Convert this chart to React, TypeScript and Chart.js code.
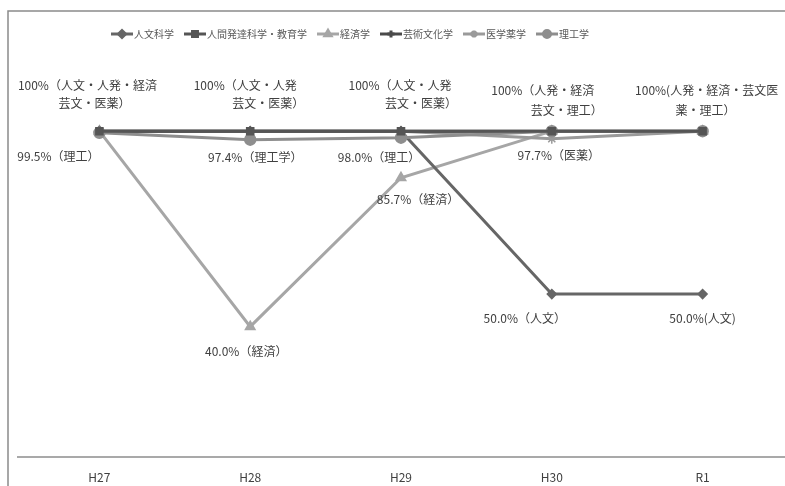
import React, { useEffect, useRef } from "react";
import { Chart, registerables } from "chart.js";
import { drawPoint } from "chart.js/helpers";

Chart.register(...registerables);

const categories = ["H27", "H28", "H29", "H30", "R1"];
const seriesNames = ["人文科学", "人間発達科学・教育学", "経済学", "芸術文化学", "医学薬学", "理工学"];
const jinbun = [100, 100, 100, 50, 50];
const ningen = [100, 100, 100, 100, 100];
const keizai = [100, 40, 85.7, 100, 100];
const geijutsu = [100, 100, 100, 100, 100];
const igaku = [100, 100, 100, 97.7, 100];
const riko = [99.5, 97.4, 98.0, 100, 100];

const colors = ["#666666", "#555555", "#a6a6a6", "#4a4a4a", "#9a9a9a", "#8e8e8e"];
const pointStyles = ["rectRot", "rect", "triangle", "cross", "star", "circle"];
const pointRadii = [4.5, 5, 5.5, 5, 5, 5.5];
const drawOrder = [2, 0, 5, 3, 4, 1];

// annotation texts: [datasetIndex, pointIndex, lines]
const labelTexts: [number, number, string[]][] = [
  [1, 0, ["100%（人文・人発・経済", "芸文・医薬）"]],
  [5, 0, ["99.5%（理工）"]],
  [1, 1, ["100%（人文・人発", "芸文・医薬）"]],
  [5, 1, ["97.4%（理工学）"]],
  [2, 1, ["40.0%（経済）"]],
  [1, 2, ["100%（人文・人発", "芸文・医薬）"]],
  [5, 2, ["98.0%（理工）"]],
  [2, 2, ["85.7%（経済）"]],
  [1, 3, ["100%（人発・経済", "芸文・理工）"]],
  [4, 3, ["97.7%（医薬）"]],
  [0, 3, ["50.0%（人文）"]],
  [1, 4, ["100%(人発・経済・芸文医", "薬・理工）"]],
  [0, 4, ["50.0%(人文)"]],
];
// per-line offsets from the point (layout)
const labelOffsets: [number, number][][] = [
  [[-12, -46], [-5, -28]],
  [[-41, 24]],
  [[-5, -46], [18, -28]],
  [[5, 18]],
  [[-4, 25]],
  [[-1, -46], [20, -28]],
  [[-22, 20]],
  [[17, 22]],
  [[-9, -41], [15, -21]],
  [[7, 17]],
  [[-27, 24]],
  [[4, -41], [3, -21]],
  [[0, 24]],
];

const FONT = "'Noto Sans CJK JP', 'Noto Sans', sans-serif";

const decorPlugin = {
  id: "decor",
  beforeDraw(chart: any) {
    const ctx = chart.ctx;
    ctx.save();
    ctx.fillStyle = "#ffffff";
    ctx.fillRect(0, 0, chart.width, chart.height);
    ctx.strokeStyle = "#8a8a8a";
    ctx.lineWidth = 1.5;
    ctx.strokeRect(8, 11, chart.width + 20, chart.height + 20);
    const y = chart.chartArea.bottom;
    ctx.strokeStyle = "#8c8c8c";
    ctx.lineWidth = 1.5;
    ctx.beginPath();
    ctx.moveTo(17, y);
    ctx.lineTo(chart.width, y);
    ctx.stroke();
    ctx.restore();
  },
  afterDraw(chart: any) {
    const ctx = chart.ctx;
    ctx.save();
    // legend
    ctx.font = `10px ${FONT}`;
    ctx.textBaseline = "middle";
    ctx.textAlign = "left";
    const lineLen = 22;
    const gapText = 1;
    const gapItem = 10;
    let total = 0;
    const widths = seriesNames.map((n) => ctx.measureText(n).width);
    widths.forEach((w) => (total += lineLen + gapText + w));
    total += gapItem * (seriesNames.length - 1);
    let x = 350 - total / 2;
    const ly = 34;
    seriesNames.forEach((n, i) => {
      ctx.strokeStyle = colors[i];
      ctx.lineWidth = 3;
      ctx.beginPath();
      ctx.moveTo(x, ly);
      ctx.lineTo(x + lineLen, ly);
      ctx.stroke();
      ctx.fillStyle = colors[i];
      drawPoint(ctx, { pointStyle: pointStyles[i], radius: 3.5, rotation: 0, borderWidth: 1.5 } as any, x + lineLen / 2, ly);
      ctx.fillStyle = "#595959";
      ctx.fillText(n, x + lineLen + gapText, ly + 0.5);
      x += lineLen + gapText + widths[i] + gapItem;
    });
    // data labels
    ctx.font = `12px ${FONT}`;
    ctx.fillStyle = "#404040";
    ctx.textAlign = "center";
    labelTexts.forEach(([di, pi, lines], k) => {
      const el = chart.getDatasetMeta(di).data[pi];
      if (!el) return;
      lines.forEach((t, li) => {
        const [dx, dy] = labelOffsets[k][li];
        ctx.fillText(t, el.x + dx, el.y + dy);
      });
    });
    ctx.restore();
  },
};

export default function App() {
  const ref = useRef<HTMLCanvasElement>(null);
  useEffect(() => {
    if (!ref.current) return;
    const data = [jinbun, ningen, keizai, geijutsu, igaku, riko];
    const chart = new Chart(ref.current, {
      type: "line",
      data: {
        labels: categories,
        datasets: data.map((d, i) => ({
          label: seriesNames[i],
          data: d,
          order: drawOrder[i],
          borderColor: colors[i],
          backgroundColor: colors[i],
          pointBackgroundColor: colors[i],
          pointBorderColor: colors[i],
          pointStyle: pointStyles[i] as any,
          pointRadius: pointRadii[i],
          pointBorderWidth: 1.5,
          borderWidth: 3,
          tension: 0,
          fill: false,
        })),
      },
      options: {
        animation: false,
        responsive: false,
        devicePixelRatio: 1,
        layout: { padding: { top: 66, left: 24, right: 5, bottom: 0 } },
        plugins: { legend: { display: false }, tooltip: { enabled: false } },
        scales: {
          x: {
            offset: true,
            grid: { display: false },
            border: { display: false },
            ticks: { color: "#404040", font: { family: FONT, size: 12 }, padding: 5 },
            afterFit: (s: any) => {
              s.height = 29;
            },
          },
          y: { display: false, min: 0, max: 120 },
        },
      },
      plugins: [decorPlugin],
    });
    return () => chart.destroy();
  }, []);
  return (
    <div style={{ position: "fixed", left: 0, top: 0, width: 785, height: 486, background: "#fff" }}>
      <canvas ref={ref} width={785} height={486} style={{ display: "block", width: 785, height: 486 }} />
    </div>
  );
}
